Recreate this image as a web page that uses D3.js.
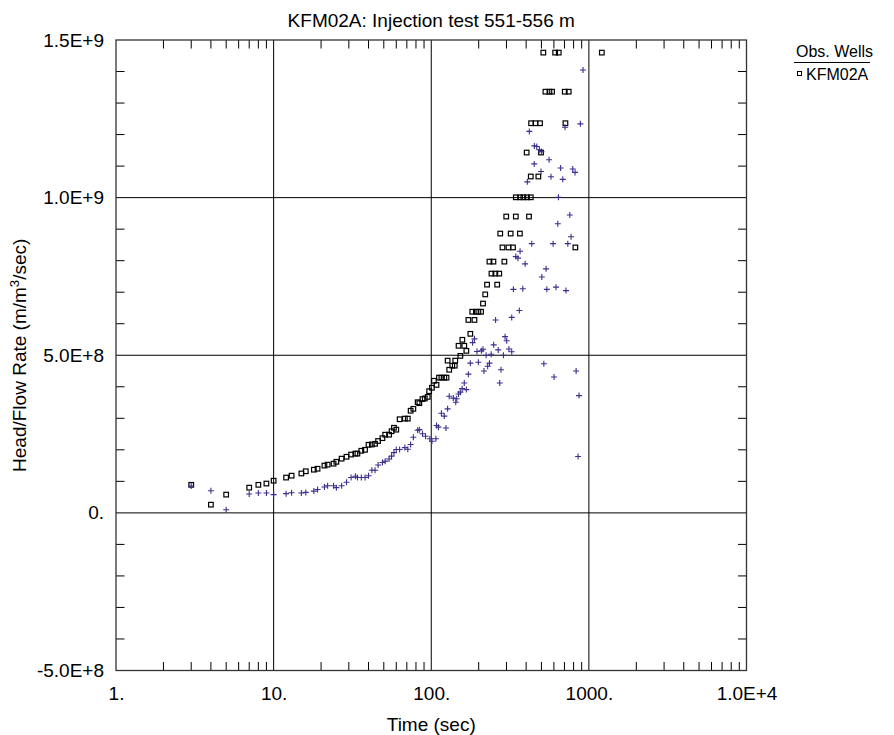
<!DOCTYPE html>
<html><head><meta charset="utf-8">
<script src="https://cdn.jsdelivr.net/npm/d3@7"></script>
<style>
html,body{margin:0;padding:0;background:#fff;}
text{font-family:"Liberation Sans",Arial,sans-serif;}
</style></head>
<body>
<svg id="chart" width="894" height="735"></svg>
<script>
const title = "KFM02A: Injection test 551-556 m";
const xLabel = "Time (sec)";
const legendTitle = "Obs. Wells";
const legendName = "KFM02A";

const xTickValues = [1, 10, 100, 1000, 10000];
const xTickLabels = ["1.", "10.", "100.", "1000.", "1.0E+4"];
const yTickValues = [-5e8, 0, 5e8, 1e9, 1.5e9];
const yTickLabels = ["-5.0E+8", "0.", "5.0E+8", "1.0E+9", "1.5E+9"];

// Head/Flow Rate (squares)
const sqTime = [3,4,5,7,8,9,10,12,13,15,16,18,19,21,22,24,25,27,29,31,33,34,36,38,40,42,44,46,49,51,54,56,58,60,63,68,71,74,77,82,84,88,91,95,97,101,104,108,112,116,121,125,127,130,136,141,142,149,153,157.5,162,167,172,177,182,188,192,199,207,213,220,226,234,241,248,255,262,270,274,283,291,299,309,319,330,344,344,365,366,384,405,403,417,428,428,430,458,478,490,497,514,530,562,584,611,644,703,710,745,821,1208];
const sqValue = [0.89e8,0.26e8,0.58e8,0.80e8,0.89e8,0.93e8,1.02e8,1.12e8,1.18e8,1.25e8,1.32e8,1.37e8,1.40e8,1.50e8,1.53e8,1.56e8,1.62e8,1.72e8,1.78e8,1.85e8,1.88e8,1.88e8,1.97e8,2.00e8,2.16e8,2.17e8,2.19e8,2.28e8,2.37e8,2.48e8,2.48e8,2.59e8,2.70e8,2.64e8,2.97e8,2.99e8,2.99e8,3.24e8,3.30e8,3.51e8,3.48e8,3.61e8,3.63e8,3.68e8,3.86e8,3.97e8,4.19e8,4.06e8,4.29e8,4.29e8,4.29e8,4.29e8,4.83e8,4.54e8,4.67e8,4.67e8,4.83e8,5.30e8,4.98e8,5.49e8,5.30e8,5.14e8,6.12e8,5.68e8,6.38e8,6.12e8,6.38e8,6.38e8,6.38e8,6.64e8,6.93e8,7.24e8,7.97e8,7.59e8,7.97e8,7.59e8,7.24e8,7.59e8,8.86e8,8.42e8,7.97e8,9.40e8,8.42e8,8.86e8,8.42e8,10.01e8,9.40e8,8.86e8,10.01e8,10.01e8,10.01e8,11.43e8,9.40e8,10.01e8,10.67e8,12.36e8,12.36e8,10.67e8,12.36e8,11.43e8,14.6e8,13.36e8,13.36e8,13.36e8,14.6e8,14.6e8,13.36e8,12.36e8,13.36e8,8.42e8,14.6e8];

// second series (plus markers)
const plTime = [3,4,5,7,8,9,10,12,13,15,16,18,19,21,22,24,25,27,29,31,33,34,36,38,40,42,44,46,49,51,54,56,58,60,63,68,71,74,77,82,84,88,92,98,101,107,108,111,116,121,124,127,130,138,143,145,149,153,157,162,167,172,177,183,188,195,199,208,213,216,223,228,234,240,249,256,266,272,277,287,294,301,311,324,324,332,344,355,362,366,381,394,407,419,434,450,451,467,485,497,500,503,518,535,541,559,575,593,601,619,635,641,662,683,706,716,735,757,771,790,817,830,854,866,883,918];
const plValue = [0.85e8,0.70e8,0.10e8,0.60e8,0.63e8,0.63e8,0.58e8,0.61e8,0.64e8,0.63e8,0.65e8,0.69e8,0.74e8,0.82e8,0.86e8,0.86e8,0.80e8,0.86e8,0.97e8,1.12e8,1.16e8,1.12e8,1.12e8,1.12e8,1.18e8,1.35e8,1.35e8,1.52e8,1.60e8,1.64e8,1.71e8,1.80e8,1.91e8,2.01e8,2.01e8,2.07e8,2.02e8,2.17e8,2.40e8,2.62e8,2.64e8,2.51e8,2.43e8,2.35e8,2.27e8,2.35e8,2.77e8,2.72e8,3.16e8,3.07e8,2.69e8,3.30e8,3.70e8,3.64e8,3.51e8,3.62e8,3.77e8,3.83e8,3.94e8,4.12e8,3.91e8,4.40e8,4.75e8,5.40e8,5.52e8,5.12e8,4.78e8,5.14e8,5.19e8,4.50e8,5.00e8,4.65e8,4.75e8,5.03e8,5.33e8,6.12e8,5.17e8,4.12e8,4.54e8,5.00e8,5.59e8,5.46e8,5.20e8,5.11e8,6.20e8,7.09e8,8.13e8,8.08e8,6.42e8,8.30e8,7.11e8,7.90e8,10.50e8,12.10e8,8.54e8,11.07e8,11.64e8,11.62e8,11.52e8,10.83e8,11.46e8,7.48e8,4.73e8,7.74e8,7.09e8,11.20e8,10.66e8,8.54e8,4.31e8,7.16e8,9.17e8,10.01e8,10.94e8,10.58e8,12.23e8,7.05e8,8.54e8,9.45e8,8.76e8,10.91e8,10.80e8,4.50e8,1.79e8,3.72e8,12.34e8,14.05e8];

const svg = d3.select("#chart");
const m = {left: 116, top: 40, right: 746.5, bottom: 670.5};
const x = d3.scaleLog().domain([1, 10000]).range([m.left, m.right]);
const y = d3.scaleLinear().domain([-5e8, 1.5e9]).range([m.bottom, m.top]);
const FS = 19;
const plusColor = "#3a2f8f";

// gridlines
const g = svg.append("g");
g.selectAll(".gx").data([10, 100, 1000]).join("line")
  .attr("x1", d => x(d)).attr("x2", d => x(d)).attr("y1", m.top).attr("y2", m.bottom)
  .attr("stroke", "#000").attr("stroke-width", 1);
g.selectAll(".gy").data([0, 5e8, 1e9]).join("line")
  .attr("x1", m.left).attr("x2", m.right).attr("y1", d => y(d)).attr("y2", d => y(d))
  .attr("stroke", "#000").attr("stroke-width", 1);

// minor ticks
const tl = 8.5;
const xMinor = [];
for (let dec = 1; dec < 10000; dec *= 10) for (let k = 2; k <= 9; k++) xMinor.push(dec * k);
g.selectAll(".mxb").data(xMinor).join("line")
  .attr("x1", d => x(d)).attr("x2", d => x(d)).attr("y1", m.bottom).attr("y2", m.bottom - tl)
  .attr("stroke", "#000");
g.selectAll(".mxt").data(xMinor).join("line")
  .attr("x1", d => x(d)).attr("x2", d => x(d)).attr("y1", m.top).attr("y2", m.top + tl)
  .attr("stroke", "#000");
const yMinor = d3.range(-4e8, 1.5e9, 1e8).filter(v => Math.abs(v % 5e8) > 1);
g.selectAll(".myl").data(yMinor).join("line")
  .attr("x1", m.left).attr("x2", m.left + tl).attr("y1", d => y(d)).attr("y2", d => y(d))
  .attr("stroke", "#000");
g.selectAll(".myr").data(yMinor).join("line")
  .attr("x1", m.right).attr("x2", m.right - tl).attr("y1", d => y(d)).attr("y2", d => y(d))
  .attr("stroke", "#000");

// frame
svg.append("rect").attr("x", m.left).attr("y", m.top)
  .attr("width", m.right - m.left).attr("height", m.bottom - m.top)
  .attr("fill", "none").attr("stroke", "#333").attr("stroke-width", 1.3);

// axes labels via d3 axes (ticks hidden, labels only)
const xAxis = d3.axisBottom(x).tickValues(xTickValues).tickFormat((d, i) => xTickLabels[i]).tickSize(0).tickPadding(0);
const xa = svg.append("g").attr("transform", `translate(0,${m.bottom})`).call(xAxis);
xa.select(".domain").remove();
xa.selectAll("text").attr("font-size", FS).attr("fill", "#000").attr("dy", null).attr("y", 29)
  .attr("font-family", "Liberation Sans, Arial, sans-serif");

const yAxis = d3.axisLeft(y).tickValues(yTickValues).tickFormat((d, i) => yTickLabels[i]).tickSize(0).tickPadding(12);
const ya = svg.append("g").attr("transform", `translate(${m.left},0)`).call(yAxis);
ya.select(".domain").remove();
ya.selectAll("text").attr("font-size", FS).attr("fill", "#000")
  .attr("font-family", "Liberation Sans, Arial, sans-serif");

// title
svg.append("text").attr("x", (m.left + m.right) / 2).attr("y", 27)
  .attr("text-anchor", "middle").attr("font-size", FS).text(title);
// x label
svg.append("text").attr("x", (m.left + m.right) / 2).attr("y", 731)
  .attr("text-anchor", "middle").attr("font-size", FS).text(xLabel);
// y label
const yl = svg.append("text").attr("transform", `translate(26,${y(5e8)}) rotate(-90)`)
  .attr("text-anchor", "middle").attr("font-size", FS);
yl.append("tspan").text("Head/Flow Rate (m/m");
yl.append("tspan").attr("dy", -7).attr("font-size", FS * 0.7).text("3");
yl.append("tspan").attr("dy", 7).text("/sec)");

// squares
const sqData = sqTime.map((t, i) => ({t, v: sqValue[i]}));
const plData = plTime.map((t, i) => ({t, v: plValue[i]}));
const s = 4.6;
svg.append("g").selectAll("rect").data(sqData).join("rect")
  .attr("x", d => x(d.t) - s / 2).attr("y", d => y(d.v) - s / 2)
  .attr("width", s).attr("height", s)
  .attr("fill", "none").attr("stroke", "#000").attr("stroke-width", 1.2);
const p = 3;
const pg = svg.append("g").attr("stroke", plusColor).attr("stroke-width", 1.1);
pg.selectAll("path").data(plData).join("path")
  .attr("d", d => { const cx = x(d.t), cy = y(d.v); return `M${cx - p},${cy}H${cx + p}M${cx},${cy - p}V${cy + p}`; });

// legend
svg.append("text").attr("x", 796).attr("y", 57).attr("font-size", 16).text(legendTitle);
svg.append("line").attr("x1", 794).attr("x2", 870).attr("y1", 62.5).attr("y2", 62.5).attr("stroke", "#000");
svg.append("rect").attr("x", 797.5).attr("y", 71.5).attr("width", 4).attr("height", 4)
  .attr("fill", "none").attr("stroke", "#000").attr("stroke-width", 1);
svg.append("text").attr("x", 806).attr("y", 80).attr("font-size", 16).text(legendName);
</script>
</body></html>
